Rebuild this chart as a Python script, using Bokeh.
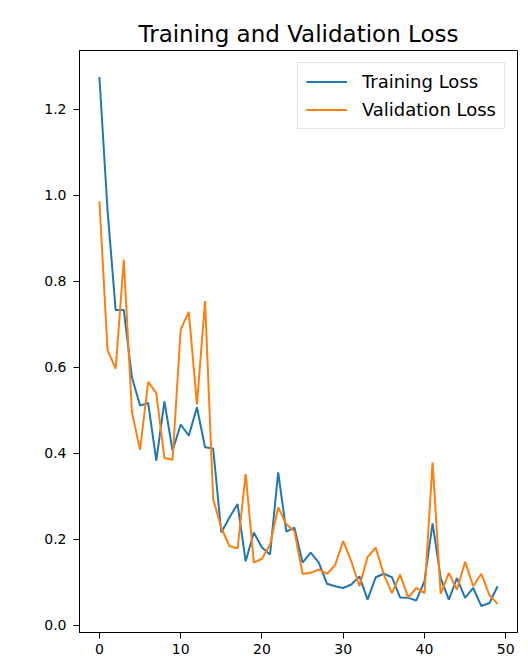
from bokeh.plotting import figure
from bokeh.models import FixedTicker, NumeralTickFormatter, Range1d, Legend, LegendItem
from bokeh.embed import file_html
from bokeh.resources import INLINE

epochs = list(range(50))
training_loss = [1.275, 0.965, 0.733, 0.733, 0.577, 0.511, 0.517, 0.383, 0.521, 0.406,
                 0.467, 0.441, 0.507, 0.414, 0.411, 0.216, 0.251, 0.282, 0.149, 0.216,
                 0.181, 0.165, 0.356, 0.218, 0.227, 0.146, 0.169, 0.146, 0.097, 0.091,
                 0.087, 0.095, 0.114, 0.060, 0.112, 0.120, 0.112, 0.065, 0.064, 0.058,
                 0.103, 0.237, 0.110, 0.060, 0.110, 0.064, 0.087, 0.045, 0.052, 0.091]
validation_loss = [0.986, 0.640, 0.597, 0.850, 0.496, 0.408, 0.566, 0.540, 0.389, 0.385,
                   0.688, 0.729, 0.514, 0.754, 0.293, 0.227, 0.184, 0.179, 0.352, 0.146,
                   0.155, 0.188, 0.274, 0.235, 0.219, 0.120, 0.122, 0.130, 0.120, 0.140,
                   0.196, 0.149, 0.091, 0.159, 0.181, 0.118, 0.075, 0.118, 0.065, 0.087,
                   0.075, 0.379, 0.073, 0.122, 0.083, 0.148, 0.091, 0.120, 0.070, 0.050]
x_ticks = [0, 10, 20, 30, 40, 50]
y_ticks = [0.0, 0.2, 0.4, 0.6, 0.8, 1.0, 1.2]
series_names = ["Training Loss", "Validation Loss"]
colors = ["#1f77b4", "#ff7f0e"]

# matplotlib-like 5% margins
xmin, xmax = min(epochs), max(epochs)
ymin = min(min(training_loss), min(validation_loss))
ymax = max(max(training_loss), max(validation_loss))
xm = (xmax - xmin) * 0.05
ym = (ymax - ymin) * 0.05

FONT = "DejaVu Sans"

p = figure(width=524, height=660, output_backend="svg", toolbar_location=None,
           x_range=Range1d(xmin - xm, xmax + xm), y_range=Range1d(ymin - ym, ymax + ym),
           min_border_left=79, min_border_right=7, min_border_top=50, min_border_bottom=28,
           title="Training and Validation Loss")

p.title.text_font = FONT
p.title.text_font_size = "23px"
p.title.text_font_style = "normal"
p.title.align = "center"
p.title.text_color = "#000000"
p.title.standoff = 7

p.xgrid.visible = False
p.ygrid.visible = False
p.outline_line_color = "#000000"
p.outline_line_alpha = 1.0
p.outline_line_width = 1

for ax in (p.xaxis[0], p.yaxis[0]):
    ax.axis_line_color = "#000000"
    ax.major_tick_line_color = "#000000"
    ax.major_tick_out = 6
    ax.major_tick_in = 0
    ax.minor_tick_line_color = None
    ax.major_label_text_font = FONT
    ax.major_label_text_font_size = "14px"
    ax.major_label_text_color = "#000000"

p.xaxis[0].ticker = FixedTicker(ticks=x_ticks)
p.yaxis[0].ticker = FixedTicker(ticks=y_ticks)
p.yaxis[0].formatter = NumeralTickFormatter(format="0.0")
p.xaxis[0].major_label_standoff = 5
p.yaxis[0].major_label_standoff = 7

r1 = p.line(epochs, training_loss, line_color=colors[0], line_width=2)
r2 = p.line(epochs, validation_loss, line_color=colors[1], line_width=2)

legend = Legend(items=[LegendItem(label=series_names[0], renderers=[r1]),
                       LegendItem(label=series_names[1], renderers=[r2])],
                location="top_right", margin=12, padding=8, spacing=7,
                label_height=21, glyph_height=21, glyph_width=41, label_standoff=15,
                label_text_font=FONT, label_text_font_size="18px",
                label_text_color="#000000",
                border_line_color="#cccccc", border_line_width=1,
                background_fill_color="#ffffff", background_fill_alpha=0.8)
p.add_layout(legend)

open("out.html", "w").write(file_html(p, INLINE))
